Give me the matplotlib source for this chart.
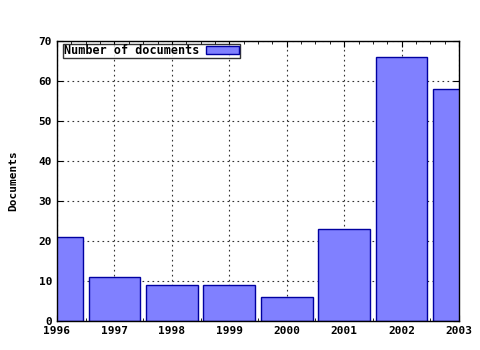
import matplotlib
matplotlib.use('Agg')
import matplotlib.pyplot as plt
from matplotlib.ticker import MultipleLocator

years = [1996, 1997, 1998, 1999, 2000, 2001, 2002, 2003]
docs = [21, 11, 9, 9, 6, 23, 66, 58]

plt.rcParams['font.family'] = 'DejaVu Sans Mono'
plt.rcParams['font.weight'] = 'bold'
plt.rcParams['axes.labelweight'] = 'bold'
plt.rcParams['font.size'] = 8

fig = plt.figure(figsize=(4.8, 3.5), dpi=100)
ax = fig.add_axes([57/480, 1 - 321/350, (459-57)/480, (321-41)/350])

ax.bar(years, docs, width=0.9, color='#8080ff', edgecolor='#0000a0',
       linewidth=1.0, label='Number of documents', zorder=2)

ax.set_xlim(1996, 2003)
ax.set_ylim(0, 70)
ax.set_xticks(years)
ax.set_yticks(range(0, 71, 10))
ax.xaxis.set_minor_locator(MultipleLocator(0.25))
ax.tick_params(which='both', direction='in', top=True, right=True, labelsize=8)
ax.tick_params(which='major', length=4)
ax.tick_params(which='minor', length=2)
ax.grid(True, which='major', linestyle=(0, (1.5, 3)), color='#333333', linewidth=0.8, zorder=0)
ax.set_axisbelow(True)
for s in ax.spines.values():
    s.set_linewidth(1.0)

ax.set_ylabel('Documents', fontsize=8, fontweight='bold', labelpad=15)

leg = ax.legend(loc='upper left', bbox_to_anchor=(0.012, 0.995), frameon=True,
                fancybox=False, edgecolor='black', handlelength=2.8, handleheight=0.6,
                borderpad=0.05, borderaxespad=0.1, handletextpad=0.6,
                markerfirst=False, fontsize=8.5)
leg.get_frame().set_linewidth(1.0)

fig.savefig('out.png', dpi=100)
